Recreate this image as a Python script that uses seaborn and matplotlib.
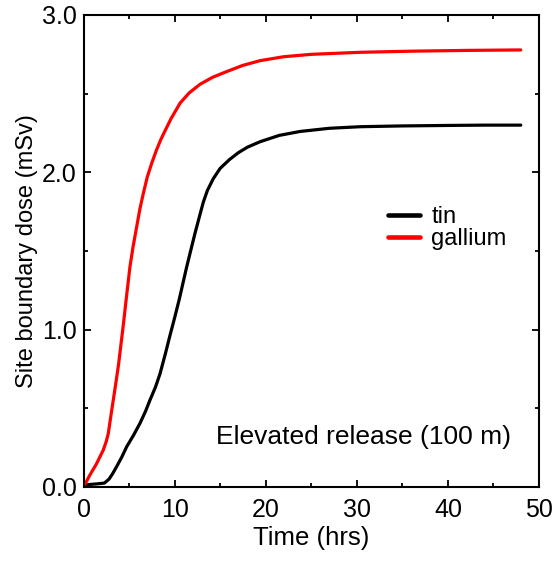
import matplotlib
matplotlib.use('Agg')
import matplotlib.pyplot as plt
import pandas as pd
import seaborn as sns
from matplotlib.lines import Line2D
from matplotlib.ticker import MultipleLocator, FormatStrFormatter

# Curves
tin_hours = [0, 0.5, 1.5, 2.3, 2.8, 3.2, 3.64, 4.2, 4.74, 5.5, 6.2, 6.8, 7.3, 7.9, 8.4,
             9.0, 9.5, 10.0, 10.5, 11.33, 12.24, 12.8, 13.15, 13.6, 14.25, 15.0, 16.0,
             17.0, 18.0, 19.4, 21.5, 23.8, 27.0, 30.4, 35.0, 40.0, 44.0, 48.0]
tin_dose = [0, 0.015, 0.02, 0.025, 0.05, 0.085, 0.13, 0.19, 0.256, 0.33, 0.405, 0.48, 0.553,
            0.635, 0.72, 0.85, 0.965, 1.075, 1.19, 1.40, 1.613, 1.735, 1.81, 1.885, 1.96,
            2.025, 2.08, 2.125, 2.16, 2.195, 2.235, 2.26, 2.28, 2.29, 2.295, 2.298, 2.30, 2.30]

gallium_hours = [0, 0.7, 1.45, 2.17, 2.5, 2.72, 3.0, 3.27, 3.6, 3.85, 4.1, 4.37, 4.7, 5.1,
                 5.45, 5.84, 6.2, 6.57, 7.0, 7.5, 8.0, 8.5, 9.0, 9.6, 10.6, 11.6, 12.8, 14.2,
                 15.7, 17.5, 19.4, 22.0, 25.0, 30.4, 36.0, 42.0, 48.0]
gallium_dose = [0, 0.076, 0.15, 0.235, 0.29, 0.34, 0.45, 0.553, 0.68, 0.78, 0.9, 1.03, 1.2,
                1.40, 1.53, 1.655, 1.77, 1.867, 1.97, 2.06, 2.14, 2.21, 2.27, 2.34, 2.44,
                2.505, 2.56, 2.605, 2.64, 2.68, 2.71, 2.735, 2.75, 2.763, 2.77, 2.775, 2.778]

series_names = ['tin', 'gallium']
series_colors = ['black', 'red']

df = pd.concat([
    pd.DataFrame({'hours': tin_hours, 'dose': tin_dose, 'metal': 'tin'}),
    pd.DataFrame({'hours': gallium_hours, 'dose': gallium_dose, 'metal': 'gallium'}),
])

sns.set_style('ticks')
plt.rcParams['font.family'] = ['Liberation Sans', 'DejaVu Sans']
plt.rcParams['text.color'] = 'black'
plt.rcParams['axes.labelcolor'] = 'black'

fig = plt.figure(figsize=(5.58, 5.71), dpi=100)
ax = fig.add_axes([83.5 / 558, (571 - 487) / 571, 455.5 / 558, 472 / 571])

sns.lineplot(data=df, x='hours', y='dose', hue='metal', hue_order=series_names,
             palette=series_colors, linewidth=2.3, ax=ax, legend=False, sort=False)
for line in ax.get_lines():
    line.set_solid_joinstyle('round')

ax.set_xlim(0, 50)
ax.set_ylim(0, 3.0)
ax.xaxis.set_major_locator(MultipleLocator(10))
ax.xaxis.set_minor_locator(MultipleLocator(5))
ax.yaxis.set_major_locator(MultipleLocator(1.0))
ax.yaxis.set_minor_locator(MultipleLocator(0.5))
ax.yaxis.set_major_formatter(FormatStrFormatter('%.1f'))

ax.tick_params(which='both', direction='in', top=True, right=True, width=1.3, colors='black',
               labelsize=18)
ax.tick_params(axis='x', pad=8)
ax.tick_params(axis='y', pad=5)
ax.tick_params(which='major', length=5)
ax.tick_params(which='minor', length=3)
for s in ax.spines.values():
    s.set_linewidth(1.5)
    s.set_color('black')

ax.set_xlabel('Time (hrs)', fontsize=18.5, labelpad=3)
ax.set_ylabel('Site boundary dose (mSv)', fontsize=17)
ax.yaxis.set_label_coords(-0.1, 0.5)

# Legend built from the series
handles = [Line2D([], [], color=c, linewidth=3.3) for c in series_colors]
ax.legend(handles, series_names, loc='upper left', bbox_to_anchor=(0.668, 0.595),
          frameon=False, fontsize=17, handlelength=1.35, handletextpad=0.5,
          labelspacing=0.0, borderaxespad=0, borderpad=0)

ax.text(30.7, 0.32, 'Elevated release (100 m)', fontsize=19, ha='center', va='center')

fig.savefig('out.png', dpi=100)
